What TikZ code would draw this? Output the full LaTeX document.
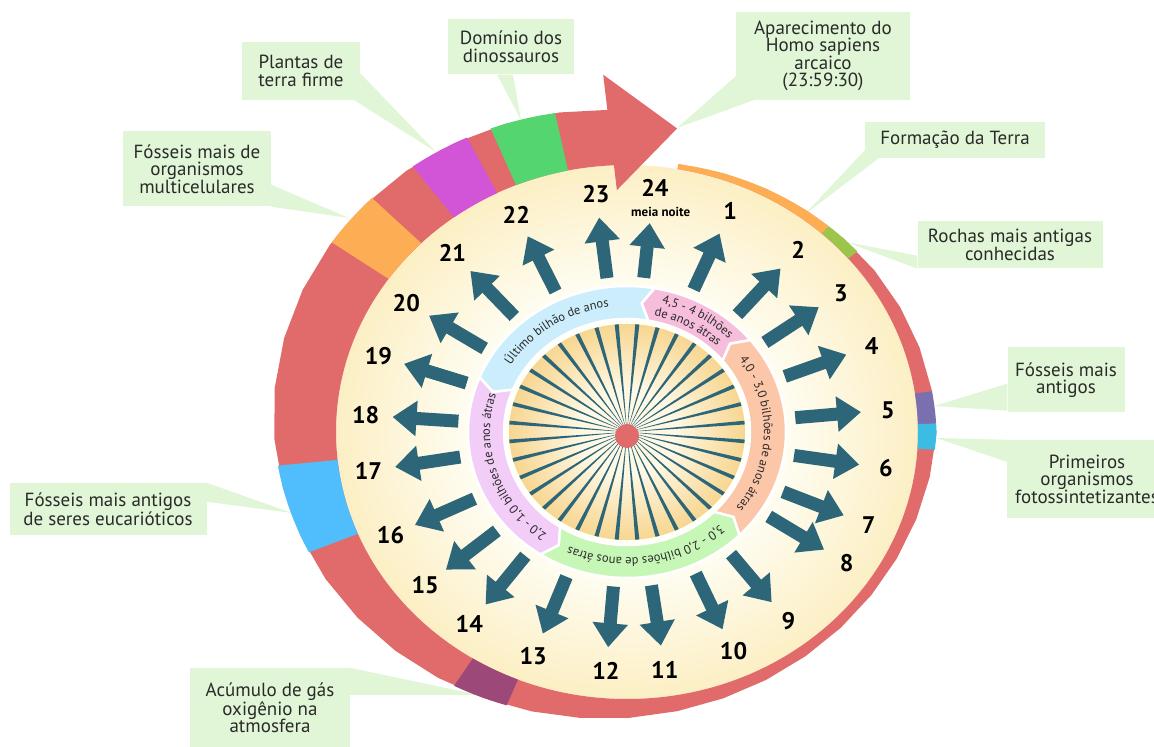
\documentclass[tikz,border=0pt]{standalone}
\usepackage{fontspec}
\setmainfont{PT Sans}
\usetikzlibrary{arrows.meta,calc,decorations.text}
\definecolor{ringred}{HTML}{E16B6B}
\definecolor{terra}{HTML}{FDAE55}
\definecolor{rocha}{HTML}{9DC54B}
\definecolor{fossil}{HTML}{7A70B0}
\definecolor{fotos}{HTML}{3CBCE2}
\definecolor{oxig}{HTML}{9C4878}
\definecolor{eucar}{HTML}{50BEFD}
\definecolor{plant}{HTML}{D155D6}
\definecolor{dino}{HTML}{55D56F}
\definecolor{callout}{HTML}{E0F6D6}
\definecolor{hourteal}{HTML}{2D6679}
\definecolor{creamin}{HTML}{FFFFF8}
\definecolor{creamout}{HTML}{FCEFC4}
\definecolor{sunin}{HTML}{FFF8E4}
\definecolor{sunout}{HTML}{F7D690}
\definecolor{bandblue}{HTML}{CCEEFC}
\definecolor{bandpink}{HTML}{F7BEDC}
\definecolor{bandsalmon}{HTML}{FCC6A8}
\definecolor{bandgreen}{HTML}{C6F7B6}
\definecolor{bandlilac}{HTML}{F2CDF7}
\definecolor{inktext}{HTML}{2A2A2A}
\pgfdeclareradialshading{creamdisc}{\pgfpoint{0bp}{0bp}}{color(0bp)=(creamin); color(12bp)=(creamin); color(25bp)=(creamout); color(50bp)=(creamout)}
\pgfdeclareradialshading{sundisc}{\pgfpoint{0bp}{0bp}}{color(0bp)=(sunin); color(10bp)=(sunin); color(25bp)=(sunout); color(50bp)=(sunout)}
\pgfmathdeclarefunction{thk}{1}{%
  \pgfmathparse{ifthenelse(#1<80,5+0.15*#1,37-20*cos(80-#1)+18*sin(80-#1))}}
\newcommand\notefont{\fontsize{19}{17.5}\selectfont}
\newcommand\hnumfont{\fontsize{24}{24}\selectfont\bfseries}
\newcommand\bandfont{\fontsize{12.5}{13}\selectfont\color{inktext}}
\newcommand\ringseg[3]{%
  \fill[#3] plot[domain=#1:#2,samples=40] ({1.09*(267+thk(\x))*cos(80-\x)},{(267+thk(\x))*sin(80-\x)})
    -- ({80-#2}:291 and 267) arc[start angle={80-#2},end angle={80-#1},x radius=291,y radius=267] -- cycle;}
\newcommand\band[3]{%
  \filldraw[fill=#3, draw=white, line width=2.5pt, line join=round]
    (#1:159 and 146) arc[start angle=#1, end angle=#2, x radius=159, y radius=146]
    -- ({#2+4}:141 and 129.5) -- (#2:123 and 113)
    arc[start angle=#2, end angle=#1, x radius=123, y radius=113]
    -- ({#1+4}:141 and 129.5) -- cycle;}
\tikzset{
  note/.style={fill=callout, align=center, inner sep=0pt, font=\notefont, text=inktext},
  hourarr/.style={hourteal, line width=13pt, -{Triangle[length=24pt,width=34pt]}},
  hournum/.style={font=\hnumfont, text=black, inner sep=0pt},
  bandtext/.style={decorate, decoration={text along path, text align=center, text={#1}}}
}

\begin{document}
\begin{tikzpicture}[x=1pt,y=1pt]
\useasboundingbox (0,0) rectangle (1154,747);
\node[note, minimum width=174pt, minimum height=88pt] (homo) at (823,691) {Aparecimento do\\Homo sapiens\\arcaico\\(23:59:30)};
\node[note, minimum width=180pt, minimum height=36pt] (terra) at (955,607) {Formação da Terra};
\node[note, minimum width=185pt, minimum height=47pt] (rocha) at (1010,502) {Rochas mais antigas\\conhecidas};
\node[note, minimum width=117pt, minimum height=65pt] (fossil) at (1066,367) {Fósseis mais\\antigos};
\node[note, minimum width=160pt, minimum height=78pt] (fotos) at (1087,268) {Primeiros\\organismos\\fotossintetizantes};
\node[note, minimum width=197pt, minimum height=52pt] (eucar) at (108,238) {Fósseis mais antigos\\de seres eucarióticos};
\node[note, minimum width=160pt, minimum height=80pt] (oxig) at (270,39) {Acúmulo de gás\\oxigênio na\\atmosfera};
\node[note, minimum width=148pt, minimum height=75pt] (multi) at (197,578) {Fósseis mais de\\organismos\\multicelulares};
\node[note, minimum width=118pt, minimum height=58pt] (plant) at (301,676) {Plantas de\\terra firme};
\node[note, minimum width=126pt, minimum height=55pt] (dino) at (511,700) {Domínio dos\\dinossauros};
\coordinate (homotip) at (677,619);
\coordinate (terratip) at (804,532);
\coordinate (rochatip) at (846,505);
\coordinate (fossiltip) at (934,341);
\coordinate (fotostip) at (936,309);
\coordinate (eucartip) at (292,234);
\coordinate (oxigtip) at (479,52);
\coordinate (multitip) at (349,529);
\coordinate (planttip) at (436,595);
\coordinate (dinotip) at (521,627);
\fill[callout] ($(homo.south west)+(0,24)$) -- (homotip) -- ($(homo.south west)+(18,0)$) -- cycle;
\fill[callout] ($(terra.south west)+(0,8)$) -- (terratip) -- ($(terra.south west)+(14,0)$) -- cycle;
\fill[callout] ($(rocha.south west)+(0,13)$) -- (rochatip) -- (rocha.south west) -- cycle;
\fill[callout] ($(fossil.south west)+(0,29)$) -- (fossiltip) -- ($(fossil.south west)+(0,2)$) -- cycle;
\fill[callout] (fotos.north west) -- (fotostip) -- ($(fotos.north west)+(0,-22)$) -- cycle;
\fill[callout] (eucar.north east) -- (eucartip) -- ($(eucar.north east)+(0,-19)$) -- cycle;
\fill[callout] (oxig.north east) -- (oxigtip) -- ($(oxig.north east)+(0,-27)$) -- cycle;
\fill[callout] ($(multi.south east)+(0,22)$) -- (multitip) -- (multi.south east) -- cycle;
\fill[callout] ($(plant.south east)+(-6,0)$) -- (planttip) -- ($(plant.south east)+(0,27)$) -- cycle;
\fill[callout] ($(dino.south)+(-14,0)$) -- (dinotip) -- ($(dino.south)+(2,0)$) -- cycle;
\begin{scope}[shift={(627,315)}]
\shade[shading=creamdisc] (0,0) ellipse[x radius=291, y radius=267];
\ringseg{0}{348}{ringred}
\foreach \a/\b/\c in {0/32/terra, 32/39.5/rocha, 71.7/78.3/fossil, 78.3/83.6/fotos, 192/202/oxig,
  237.6/254/eucar, 295/305/terra, 313.5/323.5/plant, 327.6/338.3/dino}
  {\ringseg{\a}{\b}{\c}}
\fill[ringred] (93.5:390 and 358) -- (81.4:335 and 307) -- (92.2:264 and 242) -- cycle;
\shade[shading=sundisc] (0,0) ellipse[x radius=118, y radius=108];
\foreach \a in {5,15,...,355}
  \fill[hourteal] (0,0) -- ({\a-1}:118 and 108) -- ({\a+1}:118 and 108) -- cycle;
\fill[ringred] (0,-4) circle[radius=12];
\foreach \a/\b/\c in {158/80/bandblue, 80/39/bandpink, 39/-45/bandsalmon, -45/-123/bandgreen, -123/-202/bandlilac}
  {\band{\a}{\b}{\c}}
\path[bandtext={|\bandfont|Último bilhão de anos}] (154:137 and 126) arc[start angle=154, end angle=92, x radius=137, y radius=126];
\path[bandtext={|\bandfont|4,5 - 4 bilhões}] (79:144 and 132) arc[start angle=79, end angle=42, x radius=144, y radius=132];
\path[bandtext={|\bandfont|de anos átras}] (80:130 and 119) arc[start angle=80, end angle=44, x radius=130, y radius=119];
\path[bandtext={|\bandfont|4,0 - 3,0 bilhões de anos átras}] (38:137 and 126) arc[start angle=38, end angle=-40, x radius=137, y radius=126];
\path[bandtext={|\bandfont|3,0 - 2,0 bilhões de anos átras}] (-42:137 and 126) arc[start angle=-42, end angle=-120, x radius=137, y radius=126];
\path[bandtext={|\bandfont|2,0 - 1,0 bilhões de anos átras}] (-125:137 and 126) arc[start angle=-125, end angle=-198, x radius=137, y radius=126];
\foreach \n/\a in {1/66.8,2/49.2,3/35.3,4/21,5/5.3,6/-8.7,7/-22.7,8/-33,9/-52,10/-66,11/-81.7,12/-94.6,
  13/-111,14/-127,15/-140.4,16/-154.5,17/-170.7,18/176,19/161.6,20/147.4,21/131.8,22/115,23/96.8}{
  \draw[hourarr] (\a:169 and 155) -- (\a:235 and 216);
  \node[hournum] (h\n) at (\a:262 and 240) {\n};
}
\draw[hourarr] (84.3:169 and 155) -- (84.3:229 and 210);
\node[hournum] (h24) at (84:267 and 245) {24};
\node[font=\fontsize{13}{13}\selectfont\bfseries, inner sep=0pt] (meia) at (82:242 and 222) {meia noite};
\end{scope}
\end{tikzpicture}
\end{document}
